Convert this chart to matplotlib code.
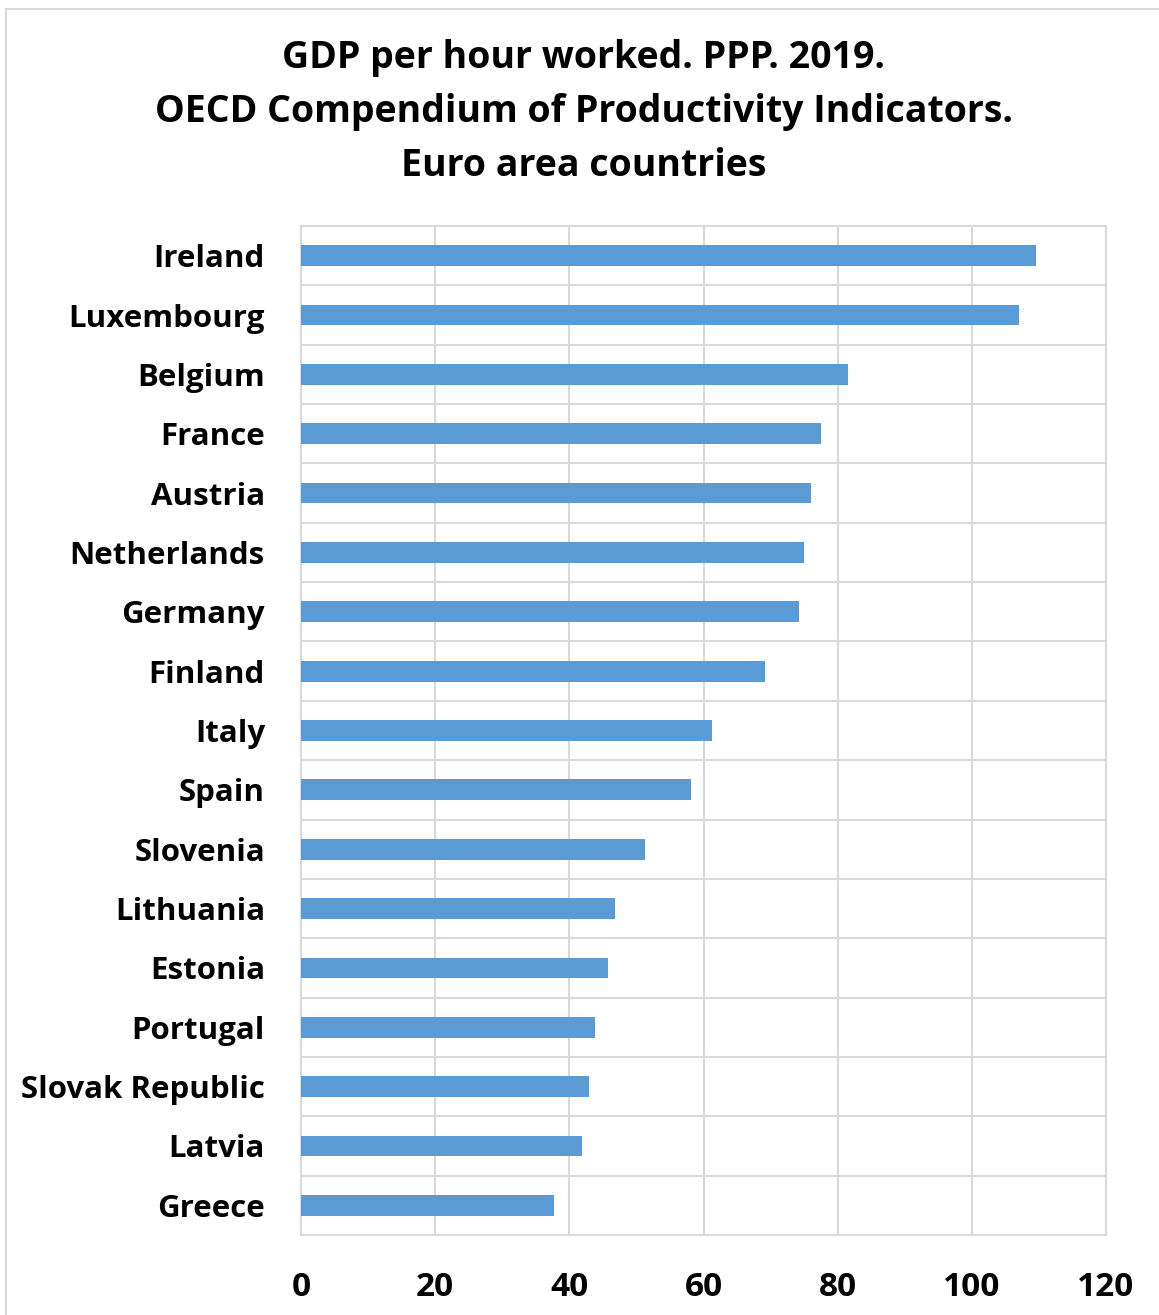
import matplotlib
matplotlib.use("Agg")
from matplotlib import pyplot as plt
from matplotlib.patches import Rectangle

plt.rcParams['font.family'] = ['Open Sans', 'DejaVu Sans']
plt.rcParams['font.weight'] = 'bold'

countries = ["Ireland", "Luxembourg", "Belgium", "France", "Austria", "Netherlands",
             "Germany", "Finland", "Italy", "Spain", "Slovenia", "Lithuania",
             "Estonia", "Portugal", "Slovak Republic", "Latvia", "Greece"]
gdp_per_hour = [109.6, 107.0, 81.5, 77.5, 76.0, 75.0, 74.2, 69.2, 61.3, 58.1,
                51.3, 46.8, 45.8, 43.8, 42.9, 41.9, 37.7]
x_ticks = [0, 20, 40, 60, 80, 100, 120]
title_lines = ["GDP per hour worked. PPP. 2019.",
               "OECD Compendium of Productivity Indicators.",
               "Euro area countries"]

fig = plt.figure(figsize=(11.59, 13.15), dpi=100)

# thin grey frame around the whole chart
fig.patches.append(Rectangle((6 / 1159, -0.01), 1.0, 1 - 9 / 1315 + 0.01,
                             transform=fig.transFigure, fill=False,
                             edgecolor='#d9d9d9', linewidth=1.5))

ax = fig.add_axes([301 / 1159, 1 - 1235 / 1315, 805 / 1159, 1009 / 1315])

y = list(range(len(countries)))[::-1]
ax.barh(y, gdp_per_hour, height=0.35, color='#5b9bd5', zorder=3)

ax.set_xlim(0, 120)
ax.set_ylim(-0.5, len(countries) - 0.5)
ax.set_xticks(x_ticks)
ax.set_yticks(y)
ax.set_yticklabels(countries)

# grid: vertical lines at ticks, horizontal lines between categories
ax.set_yticks([i - 0.5 for i in range(len(countries) + 1)], minor=True)
ax.grid(axis='x', which='major', color='#d9d9d9', linewidth=1.5, zorder=0)
ax.grid(axis='y', which='minor', color='#d9d9d9', linewidth=1.5, zorder=0)

for side in ax.spines.values():
    side.set_color('#d9d9d9')
    side.set_linewidth(1.5)

ax.tick_params(axis='both', which='both', length=0)
ax.tick_params(axis='x', labelsize=24, pad=26)
ax.tick_params(axis='y', labelsize=22.5, pad=26)

for i, line in enumerate(title_lines):
    fig.text(584 / 1159, 1 - (58 + 54 * i) / 1315, line,
             ha='center', va='center', fontsize=27, fontweight='bold')

plt.savefig("out.png", dpi=100)
